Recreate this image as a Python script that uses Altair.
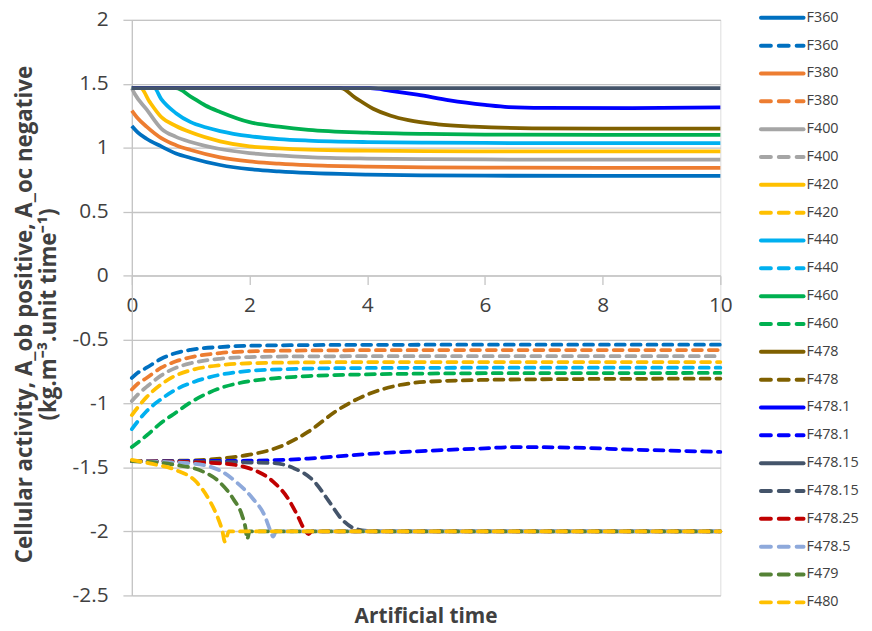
import altair as alt
import pandas as pd

# ---------------- A_ob (solid lines, positive) ----------------
T_OB_F360 = [0, 0.1, 0.25, 0.5, 0.75, 1, 1.5, 2, 2.5, 3, 4, 5, 6, 8, 10]
V_OB_F360 = [1.17, 1.12, 1.07, 1.01, 0.955, 0.92, 0.865, 0.832, 0.815, 0.803, 0.79, 0.784, 0.781, 0.78, 0.78]
T_OB_F380 = [0, 0.1, 0.25, 0.5, 0.75, 1, 1.5, 2, 2.5, 3, 4, 5, 6, 8, 10]
V_OB_F380 = [1.29, 1.23, 1.165, 1.075, 1.02, 0.982, 0.925, 0.893, 0.875, 0.863, 0.852, 0.846, 0.844, 0.843, 0.843]
T_OB_F400 = [0, 0.05, 0.25, 0.5, 0.75, 1, 1.5, 2, 2.5, 3, 4, 5, 6, 8, 10]
V_OB_F400 = [1.465, 1.42, 1.3, 1.15, 1.085, 1.045, 0.99, 0.958, 0.94, 0.927, 0.915, 0.91, 0.908, 0.907, 0.907]
T_OB_F420 = [0, 0.15, 0.3, 0.5, 0.75, 1, 1.5, 2, 2.5, 3, 4, 5, 6, 8, 10]
V_OB_F420 = [1.465, 1.465, 1.36, 1.24, 1.17, 1.12, 1.05, 1.01, 0.995, 0.985, 0.977, 0.973, 0.972, 0.971, 0.971]
T_OB_F440 = [0, 0.38, 0.5, 0.75, 1, 1.25, 1.5, 2, 2.5, 3, 4, 5, 6, 8, 10]
V_OB_F440 = [1.465, 1.465, 1.38, 1.27, 1.2, 1.16, 1.13, 1.09, 1.068, 1.056, 1.044, 1.039, 1.037, 1.036, 1.036]
T_OB_F460 = [0, 0.75, 1, 1.25, 1.5, 2, 2.5, 3, 4, 5, 6, 8, 10]
V_OB_F460 = [1.465, 1.465, 1.40, 1.33, 1.28, 1.2, 1.165, 1.14, 1.118, 1.108, 1.103, 1.10, 1.10]
T_OB_F478 = [0, 3.55, 3.8, 4.1, 4.4, 4.7, 5.2, 5.8, 6.8, 8, 10]
V_OB_F478 = [1.465, 1.465, 1.39, 1.305, 1.25, 1.215, 1.183, 1.165, 1.152, 1.15, 1.15]
T_OB_F478_1 = [0, 4.05, 4.4, 4.85, 5.4, 6.0, 6.4, 7, 8.5, 10]
V_OB_F478_1 = [1.465, 1.465, 1.445, 1.415, 1.37, 1.335, 1.318, 1.312, 1.31, 1.315]
T_OB_F478_15 = [0, 10]
V_OB_F478_15 = [1.465, 1.465]

# ---------------- A_oc (dashed lines, negative) ----------------
T_OC_F360 = [0, 0.1, 0.25, 0.5, 0.75, 1, 1.5, 2, 3, 4, 6, 10]
V_OC_F360 = [-0.80, -0.76, -0.72, -0.65, -0.605, -0.58, -0.558, -0.548, -0.543, -0.541, -0.54, -0.54]
T_OC_F380 = [0, 0.1, 0.25, 0.5, 0.75, 1, 1.5, 2, 3, 4, 6, 10]
V_OC_F380 = [-0.89, -0.845, -0.80, -0.72, -0.67, -0.638, -0.605, -0.592, -0.585, -0.583, -0.582, -0.582]
T_OC_F400 = [0, 0.1, 0.25, 0.5, 0.75, 1, 1.5, 2, 3, 4, 6, 10]
V_OC_F400 = [-0.98, -0.93, -0.87, -0.78, -0.72, -0.685, -0.65, -0.637, -0.631, -0.63, -0.63, -0.63]
T_OC_F420 = [0, 0.1, 0.25, 0.5, 0.75, 1, 1.5, 2, 3, 4, 6, 10]
V_OC_F420 = [-1.09, -1.03, -0.95, -0.85, -0.78, -0.74, -0.70, -0.685, -0.678, -0.676, -0.676, -0.676]
T_OC_F440 = [0, 0.1, 0.25, 0.5, 0.75, 1, 1.5, 2, 3, 4, 6, 10]
V_OC_F440 = [-1.2, -1.14, -1.06, -0.965, -0.89, -0.84, -0.775, -0.745, -0.727, -0.722, -0.72, -0.72]
T_OC_F460 = [0, 0.25, 0.5, 0.75, 1, 1.5, 2, 2.5, 3, 4, 6, 10]
V_OC_F460 = [-1.34, -1.25, -1.15, -1.07, -0.99, -0.88, -0.825, -0.8, -0.785, -0.772, -0.763, -0.761]
T_OC_F478 = [0, 1, 1.5, 2, 2.5, 3, 3.5, 4, 4.5, 5, 6, 7, 10]
V_OC_F478 = [-1.45, -1.445, -1.43, -1.40, -1.34, -1.22, -1.05, -0.93, -0.86, -0.83, -0.815, -0.81, -0.805]
T_OC_F478_1 = [0, 2, 3, 4, 5, 6, 6.5, 7.5, 8.5, 10]
V_OC_F478_1 = [-1.45, -1.447, -1.43, -1.395, -1.37, -1.35, -1.34, -1.345, -1.36, -1.378]
T_OC_F478_15 = [0, 2.4, 2.75, 3.1, 3.35, 3.55, 3.75, 4.0, 4.2, 10]
V_OC_F478_15 = [-1.45, -1.465, -1.505, -1.61, -1.765, -1.895, -1.97, -1.995, -2.0, -2.0]
T_OC_F478_25 = [0, 1.5, 2.0, 2.4, 2.65, 2.82, 2.94, 3.0, 3.06, 10]
V_OC_F478_25 = [-1.45, -1.468, -1.507, -1.61, -1.74, -1.88, -1.99, -2.02, -2.0, -2.0]
T_OC_F478_5 = [0, 1.0, 1.48, 1.8, 2.05, 2.25, 2.36, 2.4, 2.45, 10]
V_OC_F478_5 = [-1.45, -1.468, -1.52, -1.624, -1.74, -1.87, -2.0, -2.04, -2.0, -2.0]
T_OC_F479 = [0, 0.75, 1.2, 1.48, 1.73, 1.87, 1.93, 1.96, 2.0, 10]
V_OC_F479 = [-1.45, -1.48, -1.53, -1.61, -1.75, -1.87, -1.97, -2.06, -2.0, -2.0]
T_OC_F480 = [0, 0.3, 0.75, 1.09, 1.31, 1.45, 1.54, 1.58, 1.65, 10]
V_OC_F480 = [-1.44, -1.468, -1.52, -1.61, -1.75, -1.88, -2.0, -2.08, -2.0, -2.0]

# ---------------- names / colours / legend ----------------
NAMES = ["F360", "F380", "F400", "F420", "F440", "F460", "F478", "F478.1",
         "F478.15", "F478.25", "F478.5", "F479", "F480"]
COLORS = ["#0070C0", "#ED7D31", "#A5A5A5", "#FFC000", "#00B0F0", "#00B050", "#7F6000",
          "#0000FF", "#44546A", "#C00000", "#8EA9DB", "#548235", "#FFC000"]

OB_SERIES = [("F360", T_OB_F360, V_OB_F360), ("F380", T_OB_F380, V_OB_F380),
             ("F400", T_OB_F400, V_OB_F400), ("F420", T_OB_F420, V_OB_F420),
             ("F440", T_OB_F440, V_OB_F440), ("F460", T_OB_F460, V_OB_F460),
             ("F478", T_OB_F478, V_OB_F478), ("F478.1", T_OB_F478_1, V_OB_F478_1),
             ("F478.15", T_OB_F478_15, V_OB_F478_15)]
OC_SERIES = [("F360", T_OC_F360, V_OC_F360), ("F380", T_OC_F380, V_OC_F380),
             ("F400", T_OC_F400, V_OC_F400), ("F420", T_OC_F420, V_OC_F420),
             ("F440", T_OC_F440, V_OC_F440), ("F460", T_OC_F460, V_OC_F460),
             ("F478", T_OC_F478, V_OC_F478), ("F478.1", T_OC_F478_1, V_OC_F478_1),
             ("F478.15", T_OC_F478_15, V_OC_F478_15), ("F478.25", T_OC_F478_25, V_OC_F478_25),
             ("F478.5", T_OC_F478_5, V_OC_F478_5), ("F479", T_OC_F479, V_OC_F479),
             ("F480", T_OC_F480, V_OC_F480)]

LEGEND_NAMES = ["F360", "F360", "F380", "F380", "F400", "F400", "F420", "F420",
                "F440", "F440", "F460", "F460", "F478", "F478", "F478.1", "F478.1",
                "F478.15", "F478.15", "F478.25", "F478.5", "F479", "F480"]
LEGEND_STYLE = ["ob", "oc", "ob", "oc", "ob", "oc", "ob", "oc", "ob", "oc", "ob", "oc",
                "ob", "oc", "ob", "oc", "ob", "oc", "oc", "oc", "oc", "oc"]


def to_long(series):
    rows = []
    for order, (name, ts, vs) in enumerate(series):
        for t, v in zip(ts, vs):
            rows.append({"name": name, "t": t, "value": v, "order": order})
    return pd.DataFrame(rows)


df_ob = to_long(OB_SERIES)
df_oc = to_long(OC_SERIES)
df_leg = pd.DataFrame({"idx": list(range(len(LEGEND_NAMES))),
                       "name": LEGEND_NAMES, "style": LEGEND_STYLE})

W, H = 594, 581
YMIN, YMAX = -2.5, 2.0
FONT = "Open Sans"
TXT = "#404040"
GRID = "#C4C4C4"

color = alt.Color("name:N", scale=alt.Scale(domain=NAMES, range=COLORS), legend=None)

x_axis = alt.Axis(values=[0, 2, 4, 6, 8, 10], labelExpr="'' + datum.value",
                  offset=-(0 - YMIN) / (YMAX - YMIN) * H, grid=False, title=None,
                  labelFont=FONT, labelFontSize=21, labelColor=TXT, labelPadding=10,
                  tickSize=9, tickColor=GRID, tickWidth=1.3,
                  domainColor=GRID, domainWidth=1.3, labelFlush=False)
y_axis = alt.Axis(values=[-2.5, -2, -1.5, -1, -0.5, 0, 0.5, 1, 1.5, 2],
                  labelExpr="'' + datum.value",
                  labelFont=FONT, labelFontSize=21, labelColor=TXT, labelPadding=15,
                  tickSize=9, tickColor=GRID, tickWidth=1.3,
                  domainColor=GRID, domainWidth=1.3,
                  grid=True, gridColor=GRID, gridWidth=1.3,
                  title=["Cellular activity, A_ob positive, A_oc negative",
                         "(kg.m⁻³.unit time⁻¹)"],
                  titleFont=FONT, titleFontSize=22.5, titleFontWeight="bold",
                  titleColor=TXT, titleLineHeight=24, titlePadding=12, titleY=297)

X = alt.X("t:Q", scale=alt.Scale(domain=[0, 10], nice=False, zero=False), axis=x_axis)
Y = alt.Y("value:Q", scale=alt.Scale(domain=[YMIN, YMAX], nice=False, zero=False), axis=y_axis)

ob_lines = alt.Chart(df_ob).mark_line(strokeWidth=3.8, interpolate="monotone").encode(
    x=X, y=Y, color=color, order=alt.Order("t:Q"))
oc_lines = alt.Chart(df_oc).mark_line(strokeWidth=3.8, interpolate="monotone",
                                      strokeDash=[9, 7], strokeCap="round").encode(
    x=X, y=Y, color=color, order=alt.Order("t:Q"))

main = alt.layer(ob_lines, oc_lines)

N_LEG = len(LEGEND_NAMES) - 1
LY = alt.Y("idx:Q", scale=alt.Scale(domain=[0, N_LEG], range=[-2, 588], nice=False, zero=False),
           axis=None)
leg_base = alt.Chart(df_leg)
leg_ob = leg_base.transform_filter("datum.style == 'ob'").mark_rule(
    strokeWidth=4, strokeCap="round").encode(
    x=alt.value(635), x2=alt.value(678), y=LY, color=color)
leg_oc = leg_base.transform_filter("datum.style == 'oc'").mark_rule(
    strokeWidth=4, strokeCap="round", strokeDash=[10, 8]).encode(
    x=alt.value(635), x2=alt.value(678), y=LY, color=color)
leg_txt = leg_base.mark_text(align="left", baseline="middle", font=FONT,
                             fontSize=14.5, color=TXT).encode(
    x=alt.value(681), y=LY, text="name:N")
legend = alt.layer(leg_ob, leg_oc, leg_txt)

chart = alt.layer(main, legend).resolve_scale(y="independent").properties(
    width=W, height=H,
    autosize=alt.AutoSizeParams(type="none"),
    padding={"left": 125, "top": 9, "right": 145, "bottom": 33},
    title=alt.TitleParams("Artificial time", orient="bottom", anchor="middle", frame="group",
                          offset=-3, font=FONT, fontSize=21, fontWeight="bold", color=TXT),
).configure_view(strokeWidth=0).configure(background="white")

chart.save("out.html", embed_options={"renderer": "svg", "actions": False})
